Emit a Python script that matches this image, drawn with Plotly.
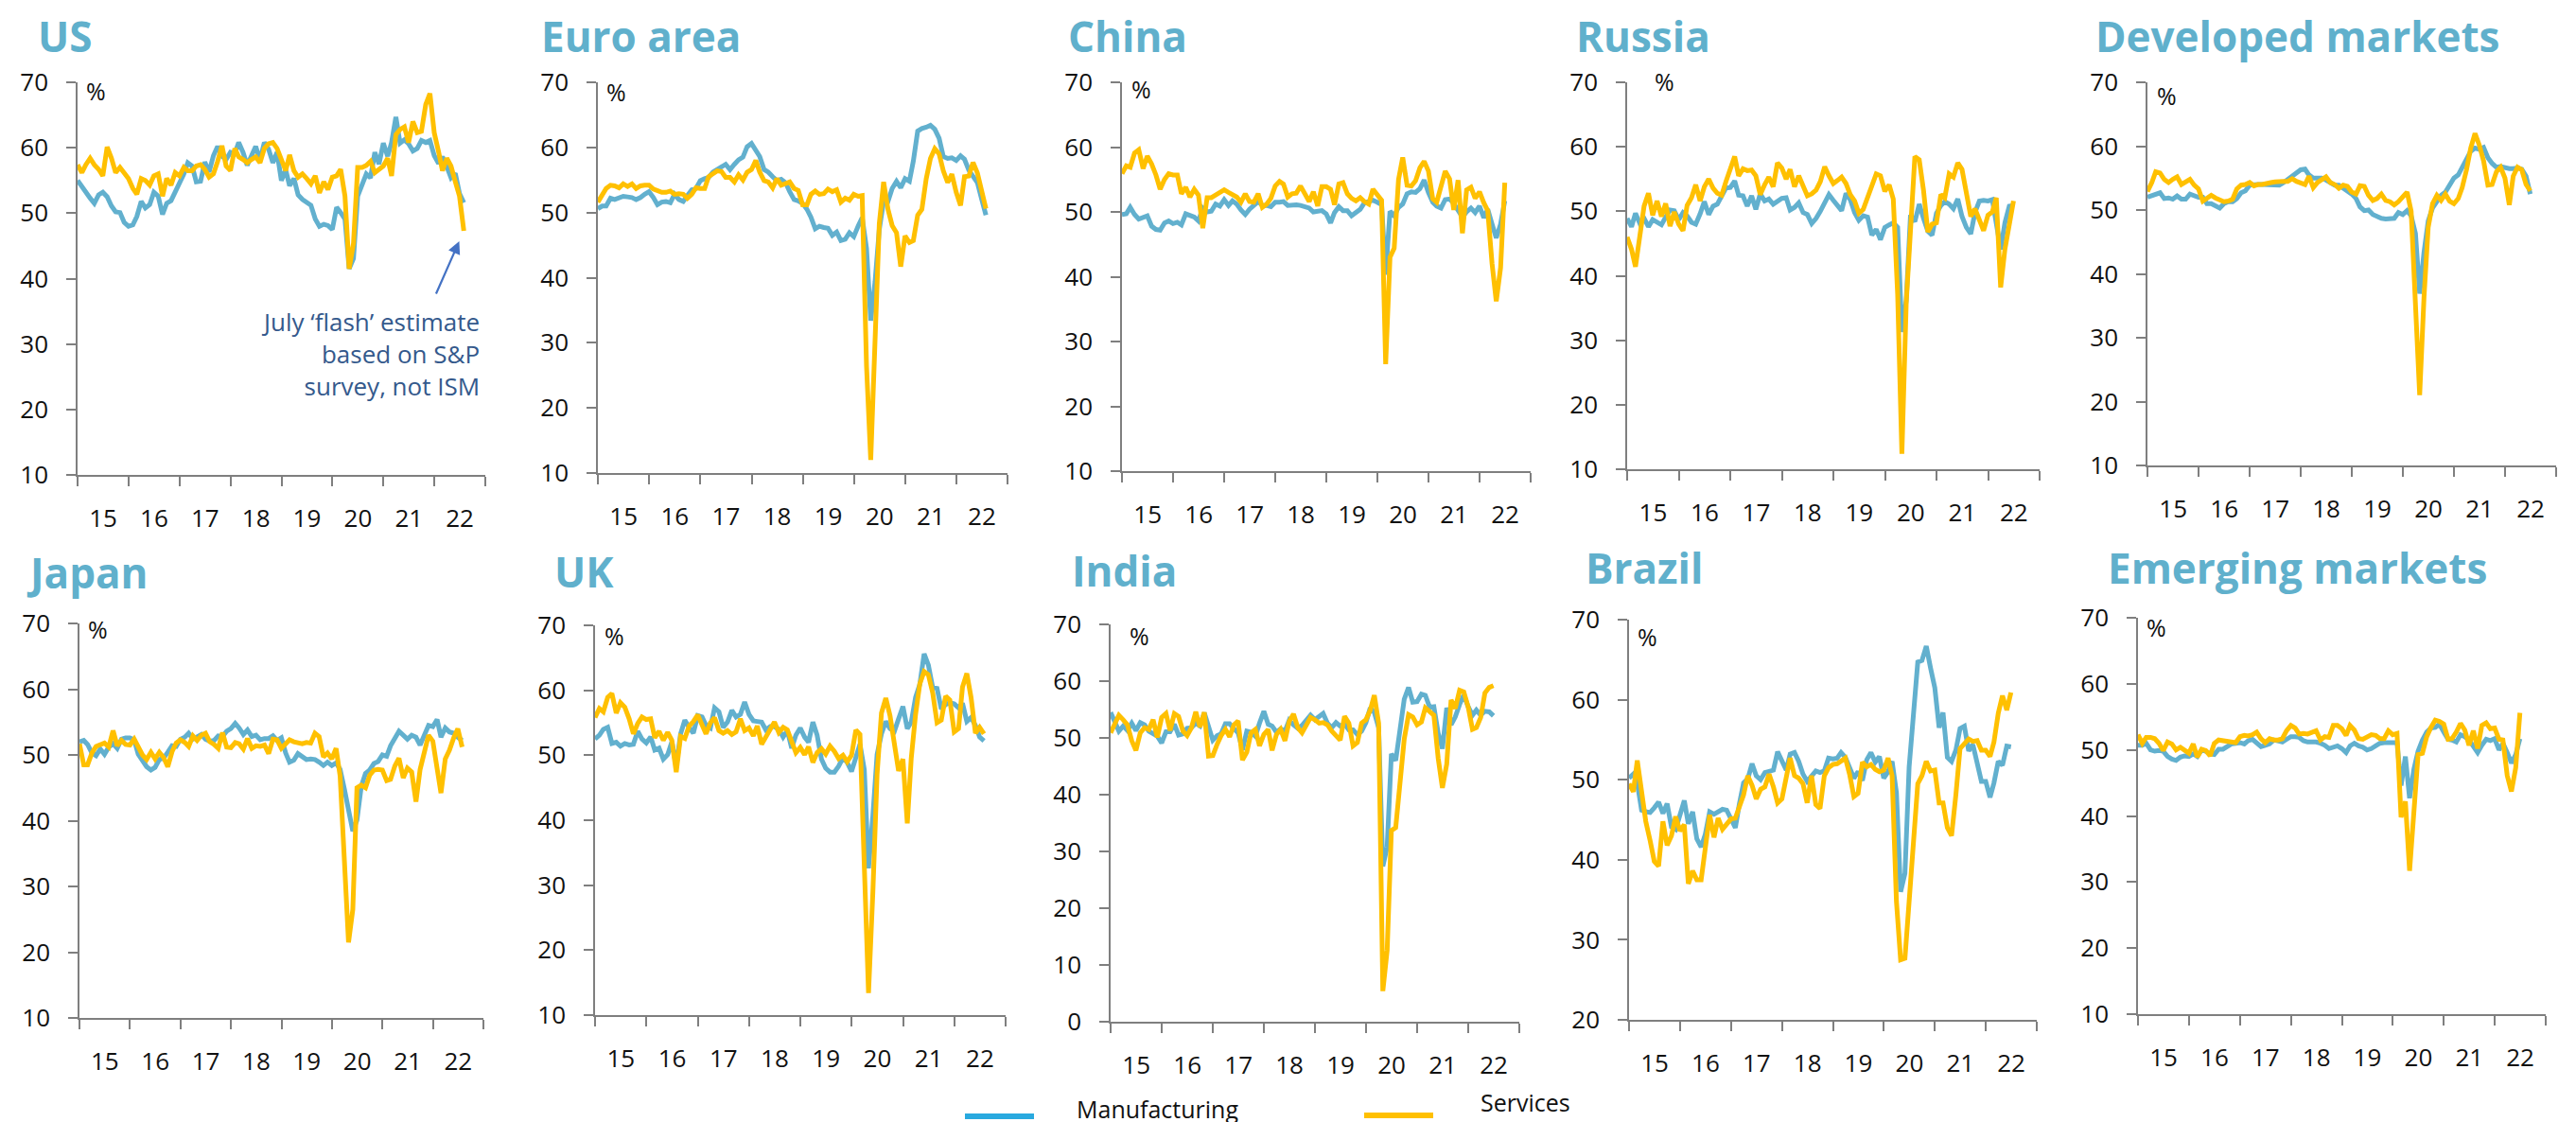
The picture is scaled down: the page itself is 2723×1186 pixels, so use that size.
import pandas as pd
import plotly.graph_objects as go

# ---------------- DATA (monthly PMIs, Dec-2014 onwards) ----------------
# month-end dates; "flash" economies run to Jul-2022, others to Jun-2022
dates_jul22 = pd.date_range("2015-01-01", periods=92, freq="MS") - pd.Timedelta(days=1)
dates_jun22 = dates_jul22[:91]

us_mfg = [55.0,
          54.0, 53.2, 52.3, 51.5, 52.8, 53.2, 52.5, 51.1, 50.2, 50.1, 48.6, 48.0,
          48.2, 49.5, 51.8, 50.8, 51.3, 53.2, 52.6, 49.8, 51.5, 51.9, 53.2, 54.5,
          56.0, 57.7, 57.2, 54.8, 54.9, 57.8, 56.3, 58.8, 60.2, 58.7, 58.2, 59.3,
          59.1, 60.8, 59.3, 57.3, 58.7, 60.2, 58.1, 60.8, 59.8, 57.7, 59.3, 55.0,
          56.6, 54.2, 55.3, 52.8, 52.1, 51.7, 51.2, 49.1, 48.0, 48.3, 48.1, 47.5,
          50.9, 50.1, 49.1, 41.5, 43.1, 52.6, 54.2, 56.0, 55.4, 59.3, 57.5, 60.7,
          58.7, 60.8, 64.7, 60.7, 61.2, 60.6, 59.5, 59.9, 61.1, 60.8, 61.1, 58.8,
          57.6, 58.6, 57.1, 55.4, 56.1, 53.0, 51.6]
us_svc = [57.4,
          56.2, 57.4, 58.4, 57.4, 56.7, 55.7, 60.1, 58.4, 56.2, 57.0, 56.2, 55.3,
          53.8, 52.9, 55.3, 55.0, 54.3, 55.7, 56.0, 52.6, 55.3, 54.3, 56.2, 55.7,
          57.0, 56.5, 56.5, 57.2, 57.4, 56.7, 55.5, 56.0, 57.9, 60.3, 57.2, 56.5,
          59.9, 58.6, 58.2, 57.7, 58.2, 58.6, 57.7, 59.9, 60.6, 60.8, 59.9, 58.2,
          56.5, 58.9, 56.5, 55.5, 56.0, 55.3, 54.5, 55.7, 53.1, 54.8, 53.6, 55.5,
          55.7, 56.7, 52.6, 41.5, 45.4, 57.0, 57.0, 57.3, 57.9, 56.2, 56.7, 57.2,
          58.4, 55.7, 62.0, 62.8, 63.2, 60.8, 64.0, 62.3, 62.5, 66.6, 68.3, 62.3,
          59.4, 56.5, 58.4, 57.2, 54.8, 52.6, 47.3]

ea_mfg = [50.6,
          51.0, 51.0, 52.2, 52.0, 52.2, 52.5, 52.4, 52.3, 52.0, 52.3, 52.8, 53.2,
          52.3, 51.2, 51.6, 51.7, 51.5, 52.8, 52.0, 51.7, 52.6, 53.5, 53.7, 54.9,
          55.2, 55.4, 56.2, 56.7, 57.0, 57.4, 56.6, 57.4, 58.1, 58.5, 60.1, 60.6,
          59.6, 58.6, 56.6, 56.2, 55.5, 54.9, 55.1, 54.6, 53.2, 52.0, 51.8, 51.4,
          50.5, 49.3, 47.5, 47.9, 47.7, 47.6, 46.5, 47.0, 45.7, 45.9, 46.9, 46.3,
          47.9, 49.2, 44.5, 33.4, 39.4, 47.4, 51.8, 51.7, 53.7, 54.8, 53.8, 55.2,
          54.8, 57.9, 62.5, 62.9, 63.1, 63.4, 62.8, 61.4, 58.6, 58.3, 58.4, 58.0,
          58.7, 58.2, 56.5, 55.5, 54.6, 52.1, 49.6]
ea_svc = [51.6,
          52.7, 53.7, 54.2, 54.1, 53.8, 54.4, 54.0, 54.4, 53.7, 54.1, 54.2, 54.2,
          53.6, 53.3, 53.1, 53.1, 53.3, 52.8, 52.9, 52.8, 52.2, 52.8, 53.8, 53.7,
          53.7, 55.5, 56.0, 56.4, 56.3, 55.4, 55.4, 54.7, 55.8, 55.0, 56.2, 56.6,
          58.0, 56.2, 54.9, 54.7, 53.8, 55.2, 54.2, 54.4, 54.7, 53.7, 53.4, 51.2,
          51.2, 52.8, 53.3, 52.8, 52.9, 53.6, 53.2, 53.5, 51.6, 52.2, 51.9, 52.8,
          52.5, 52.6, 26.4, 12.0, 30.5, 48.3, 54.7, 50.5, 48.0, 46.9, 41.7, 46.4,
          45.4, 45.7, 49.6, 50.5, 55.2, 58.3, 59.8, 59.0, 56.4, 54.6, 55.9, 53.1,
          51.1, 55.5, 55.6, 57.7, 56.1, 53.0, 50.6]

cn_mfg = [49.6,
          49.7, 50.7, 49.6, 48.9, 49.2, 49.4, 47.8, 47.3, 47.2, 48.3, 48.6, 48.2,
          48.4, 48.0, 49.7, 49.4, 49.2, 48.6, 50.6, 50.0, 50.1, 51.2, 50.9, 51.9,
          51.0, 51.7, 51.2, 50.3, 49.6, 50.4, 51.1, 51.6, 51.0, 51.0, 50.8, 51.5,
          51.5, 51.6, 51.0, 51.1, 51.1, 51.0, 50.8, 50.6, 50.0, 50.1, 50.2, 49.7,
          48.3, 49.9, 50.8, 50.2, 50.2, 49.4, 49.9, 50.4, 51.4, 51.7, 51.8, 51.5,
          51.1, 40.3, 50.1, 49.4, 50.7, 51.2, 52.8, 53.1, 53.0, 53.6, 54.9, 53.0,
          51.5, 50.9, 50.6, 51.9, 52.0, 51.3, 50.3, 49.2, 50.0, 50.6, 49.9, 50.9,
          49.1, 50.4, 48.1, 46.0, 48.1, 51.7]
cn_svc = [55.9,
          57.1, 56.9, 59.1, 59.6, 56.7, 58.6, 57.4, 55.7, 53.5, 55.0, 55.9, 55.7,
          55.7, 52.8, 53.8, 52.3, 53.5, 52.6, 47.5, 52.2, 52.2, 52.6, 53.1, 53.4,
          53.0, 52.7, 52.3, 51.5, 52.8, 51.6, 51.5, 52.8, 50.7, 51.2, 52.1, 54.0,
          54.7, 54.3, 52.3, 52.8, 52.9, 54.0, 52.8, 51.6, 53.1, 50.9, 53.9, 53.9,
          53.5, 51.1, 54.3, 54.5, 52.8, 52.1, 51.7, 52.2, 51.6, 51.2, 53.5, 52.6,
          51.8, 26.5, 43.0, 44.4, 55.0, 58.4, 54.1, 54.0, 54.8, 56.8, 57.8, 56.3,
          52.0, 51.5, 54.3, 56.3, 55.1, 50.3, 54.9, 46.7, 53.4, 53.8, 52.1, 53.1,
          51.4, 50.2, 42.0, 36.2, 41.4, 54.5]

ru_mfg = [48.9,
          47.6, 49.7, 48.1, 48.9, 47.6, 48.7, 48.3, 47.9, 49.1, 50.2, 50.1, 48.7,
          49.8, 49.3, 48.3, 48.0, 49.6, 51.5, 49.5, 50.8, 51.1, 52.4, 53.6, 53.7,
          54.7, 52.5, 52.4, 50.8, 52.4, 50.3, 52.7, 51.6, 51.9, 51.1, 51.5, 52.0,
          52.1, 50.2, 50.6, 51.3, 49.8, 49.5, 48.1, 48.9, 50.0, 51.3, 52.6, 51.7,
          50.9, 50.1, 52.8, 51.8, 49.8, 48.6, 49.3, 49.1, 46.3, 47.2, 45.6, 47.5,
          47.9, 48.2, 47.5, 31.3, 36.2, 49.4, 48.4, 51.1, 48.9, 46.9, 46.3, 49.7,
          50.9, 51.5, 51.1, 50.4, 51.9, 49.2, 47.5, 46.5, 49.8, 51.6, 51.7, 51.6,
          51.8, 48.6, 44.1, 48.2, 50.8, 50.9]
ru_svc = [46.0,
          44.1, 41.4, 46.8, 50.8, 52.8, 49.4, 51.6, 49.2, 51.2, 47.7, 49.9, 48.0,
          47.0, 50.9, 52.1, 54.1, 51.6, 53.8, 55.0, 53.6, 52.8, 52.5, 54.6, 56.5,
          58.5, 55.5, 56.6, 56.3, 56.4, 55.5, 52.6, 54.1, 55.3, 53.8, 57.5, 56.7,
          55.0, 56.5, 53.8, 55.5, 54.1, 52.4, 52.7, 53.3, 54.6, 56.9, 55.5, 54.3,
          54.8, 55.3, 54.3, 52.6, 51.6, 49.7, 50.3, 52.1, 53.7, 55.8, 55.5, 53.1,
          54.1, 51.9, 37.1, 12.4, 35.9, 47.7, 58.5, 58.0, 53.3, 46.8, 48.0, 48.2,
          52.6, 52.1, 55.8, 55.3, 57.5, 56.5, 53.1, 49.2, 50.4, 48.7, 47.0, 49.4,
          49.9, 52.1, 38.2, 44.1, 48.0, 51.6]

dm_mfg = [52.0,
          52.3, 52.5, 52.7, 51.8, 51.9, 51.7, 52.2, 51.7, 51.7, 52.5, 52.3, 52.0,
          52.0, 51.0, 51.0, 50.7, 50.3, 51.0, 51.3, 51.3, 51.8, 52.7, 53.0, 53.9,
          54.0, 54.0, 54.0, 54.0, 54.0, 53.9, 53.9, 54.3, 54.8, 55.3, 55.8, 56.3,
          56.4, 55.5, 55.0, 55.0, 55.0, 54.7, 54.3, 53.9, 53.9, 53.5, 53.0, 52.5,
          51.8, 50.5, 49.9, 50.0, 49.3, 48.9, 48.7, 48.6, 48.6, 48.7, 49.6, 49.3,
          49.9, 49.1, 46.3, 36.9, 43.4, 48.3, 50.3, 51.4, 52.3, 52.8, 54.0, 55.0,
          55.5, 56.7, 58.3, 59.2, 59.7, 59.5, 59.8, 58.2, 57.3, 56.7, 56.8, 56.6,
          56.5, 56.5, 56.6, 56.4, 55.3, 52.5]
dm_svc = [52.9,
          54.3, 56.0, 55.8, 54.8, 54.3, 54.8, 55.2, 54.0, 54.3, 54.8, 53.9, 53.3,
          51.4, 51.8, 52.3, 51.9, 51.5, 51.3, 51.4, 51.7, 53.3, 53.9, 54.0, 54.3,
          53.8, 54.0, 54.0, 54.2, 54.3, 54.4, 54.5, 54.5, 54.5, 54.9, 54.5, 54.2,
          54.0, 55.3, 53.5, 54.3, 54.8, 55.2, 54.3, 54.0, 53.4, 53.9, 53.7, 52.8,
          52.5, 53.8, 53.7, 52.3, 51.5, 51.8, 52.5, 51.5, 51.3, 50.8, 51.3, 52.0,
          52.8, 49.8, 36.4, 21.0, 36.4, 47.3, 51.0, 52.3, 51.5, 52.5, 51.4, 51.0,
          51.8, 53.5, 56.3, 59.7, 62.0, 60.2, 57.7, 53.9, 54.0, 56.0, 56.7, 55.0,
          50.8, 55.3, 56.7, 56.3, 54.0, 53.0]

jp_mfg = [52.0,
          52.2, 51.6, 50.3, 49.9, 50.9, 50.1, 51.2, 51.7, 51.0, 52.4, 52.6, 52.6,
          52.3, 50.1, 49.1, 48.2, 47.7, 48.1, 49.3, 49.5, 50.4, 51.4, 51.3, 52.4,
          52.7, 53.3, 52.4, 52.7, 53.1, 52.4, 52.1, 52.2, 52.9, 52.8, 53.6, 54.0,
          54.8, 54.1, 53.1, 53.8, 52.8, 53.0, 52.3, 52.5, 52.5, 52.9, 52.2, 52.6,
          50.3, 48.9, 49.2, 50.2, 49.8, 49.3, 49.4, 49.3, 48.9, 48.4, 48.9, 48.4,
          48.8, 47.8, 44.8, 41.9, 38.4, 40.1, 45.2, 47.2, 47.7, 48.7, 49.0, 50.0,
          49.8, 51.4, 52.7, 53.6, 53.0, 52.4, 53.0, 52.7, 51.5, 53.2, 54.5, 54.3,
          55.4, 52.7, 54.1, 53.5, 53.3, 52.7, 52.2]
jp_svc = [51.7,
          48.5, 48.5, 50.3, 51.3, 51.5, 51.8, 51.2, 53.7, 51.4, 52.2, 51.6, 51.5,
          52.4, 51.2, 50.0, 49.3, 50.4, 49.4, 50.4, 49.6, 48.2, 50.5, 51.8, 52.3,
          51.9, 51.3, 52.9, 52.2, 53.0, 53.3, 52.0, 51.6, 51.0, 53.4, 51.2, 51.1,
          51.9, 51.7, 50.9, 52.5, 51.0, 51.4, 51.3, 51.5, 50.2, 52.4, 52.3, 51.0,
          51.6, 52.3, 52.0, 51.8, 51.7, 51.9, 51.8, 53.3, 52.8, 49.7, 50.3, 49.4,
          51.0, 46.8, 33.8, 21.5, 26.5, 45.0, 45.4, 45.0, 46.9, 47.7, 47.8, 47.7,
          46.1, 46.3, 48.3, 49.5, 46.5, 48.0, 47.4, 42.9, 47.8, 50.7, 53.0, 52.1,
          47.6, 44.2, 49.4, 50.7, 52.6, 54.0, 51.2]

uk_mfg = [52.5,
          53.1, 54.0, 54.3, 51.8, 52.0, 51.4, 51.8, 51.6, 51.7, 53.7, 52.5, 51.9,
          52.8, 50.8, 51.1, 49.4, 50.1, 52.1, 48.3, 53.3, 55.4, 54.3, 53.4, 56.1,
          55.9, 54.6, 54.2, 57.3, 56.7, 54.3, 55.1, 56.9, 55.9, 56.3, 58.2, 56.3,
          55.3, 55.2, 55.1, 53.9, 54.4, 54.4, 54.0, 52.8, 53.8, 51.1, 53.1, 54.2,
          52.8, 52.0, 55.1, 53.1, 49.4, 48.0, 47.4, 47.4, 48.3, 49.6, 48.9, 47.5,
          50.0, 51.7, 47.8, 32.6, 40.7, 50.1, 53.3, 55.2, 54.1, 53.7, 55.6, 57.5,
          54.1, 55.1, 58.9, 60.9, 65.6, 63.9, 60.4, 60.3, 57.1, 57.8, 58.1, 57.9,
          57.3, 58.0, 55.2, 55.8, 54.6, 52.8, 52.2]
uk_svc = [55.8,
          57.2, 56.7, 58.9, 59.5, 56.5, 58.1, 57.4, 55.6, 53.3, 54.9, 55.9, 55.5,
          55.6, 52.7, 53.7, 52.3, 53.5, 52.3, 47.4, 52.9, 52.6, 54.5, 55.2, 56.2,
          54.5, 53.3, 55.0, 55.8, 53.8, 53.4, 53.8, 53.2, 53.6, 55.6, 53.8, 54.2,
          53.0, 54.5, 51.7, 52.8, 54.0, 55.1, 53.5, 54.3, 53.9, 52.2, 50.4, 51.2,
          50.1, 51.3, 48.9, 50.4, 51.0, 50.2, 51.4, 50.6, 49.5, 50.0, 49.0, 50.0,
          53.9, 53.2, 34.5, 13.4, 29.0, 47.1, 56.5, 58.8, 56.1, 51.4, 47.6, 49.4,
          39.5, 49.5, 56.3, 61.0, 62.9, 62.4, 59.6, 55.0, 55.4, 59.1, 58.5, 53.6,
          54.1, 60.5, 62.6, 58.9, 53.4, 54.3, 53.3]

in_mfg = [54.5,
          52.9, 51.2, 52.1, 51.3, 52.6, 51.3, 52.7, 52.3, 51.2, 50.7, 50.3, 49.1,
          51.1, 51.1, 52.4, 50.5, 50.7, 51.7, 51.8, 52.6, 52.1, 54.4, 52.3, 49.6,
          50.4, 50.7, 52.5, 52.5, 51.6, 50.9, 47.9, 51.2, 51.0, 50.3, 52.6, 54.7,
          52.4, 52.1, 51.0, 51.6, 51.2, 53.1, 52.3, 51.7, 52.2, 53.1, 54.0, 53.2,
          53.9, 54.3, 52.6, 51.8, 52.7, 52.1, 52.5, 51.4, 51.4, 50.6, 51.2, 52.7,
          55.3, 54.5, 51.8, 27.4, 30.8, 47.2, 46.0, 52.0, 56.8, 58.9, 56.3, 56.4,
          57.7, 57.5, 55.4, 55.5, 50.8, 48.1, 55.3, 52.3, 53.7, 55.9, 57.6, 55.5,
          54.0, 54.9, 54.0, 54.7, 54.6, 53.9]
in_svc = [50.9,
          52.6, 54.0, 53.2, 52.3, 49.5, 47.8, 50.9, 51.8, 51.5, 53.2, 50.1, 53.6,
          54.3, 51.3, 54.3, 53.8, 51.2, 50.4, 51.8, 54.6, 51.9, 54.5, 46.8, 46.9,
          48.9, 50.4, 51.5, 50.2, 52.3, 53.0, 46.1, 47.5, 50.9, 51.5, 48.6, 50.6,
          51.5, 47.8, 50.6, 51.5, 49.5, 52.9, 54.2, 51.8, 50.9, 52.3, 53.6, 53.2,
          52.6, 52.7, 52.3, 51.2, 50.4, 49.6, 53.8, 52.6, 48.6, 49.2, 52.6, 53.2,
          54.9, 57.5, 52.6, 5.4, 12.6, 33.7, 34.2, 41.8, 49.8, 54.1, 53.7, 52.3,
          52.8, 55.3, 54.6, 54.0, 46.4, 41.2, 45.4, 56.7, 55.2, 58.4, 58.1, 55.5,
          51.5, 51.8, 53.6, 57.9, 58.9, 59.2]

br_mfg = [50.2,
          50.7, 49.6, 46.2, 46.0, 45.9, 46.5, 47.2, 45.8, 47.0, 44.1, 43.8, 45.6,
          47.4, 44.5, 46.0, 42.6, 41.6, 43.2, 46.0, 45.7, 46.0, 46.3, 46.2, 45.2,
          44.0, 46.9, 49.6, 50.1, 52.0, 50.5, 50.0, 50.9, 51.1, 51.2, 53.5, 52.4,
          51.2, 53.2, 53.4, 52.3, 50.7, 49.8, 50.5, 51.1, 50.9, 51.1, 52.7, 52.6,
          52.7, 53.4, 52.8, 51.5, 50.2, 51.0, 49.9, 52.5, 53.4, 52.2, 52.9, 50.2,
          51.0, 52.3, 48.4, 36.0, 38.3, 51.6, 58.2, 64.7, 64.9, 66.7, 64.0, 61.5,
          56.5, 58.4, 52.8, 52.3, 53.7, 56.4, 56.7, 53.6, 54.4, 51.7, 49.8, 49.8,
          47.8, 49.6, 52.3, 51.8, 54.2, 54.1]
br_svc = [49.5,
          48.5, 52.4, 48.5, 44.8, 42.4, 39.8, 39.2, 44.8, 41.8, 43.0, 45.4, 43.6,
          44.4, 37.0, 38.6, 37.5, 37.5, 41.6, 45.6, 42.8, 45.2, 43.8, 44.4, 45.1,
          45.2, 46.6, 48.1, 50.5, 49.3, 47.6, 48.8, 49.1, 50.7, 49.1, 47.1, 47.6,
          50.2, 52.7, 50.5, 50.2, 49.5, 47.1, 50.5, 46.9, 46.4, 50.5, 51.5, 51.9,
          52.0, 52.3, 52.7, 50.7, 47.9, 48.3, 52.2, 51.6, 51.9, 51.3, 51.0, 51.2,
          52.7, 50.5, 34.8, 27.5, 27.7, 34.8, 41.6, 49.5, 50.5, 52.3, 51.1, 51.2,
          47.1, 47.1, 44.0, 43.0, 48.1, 53.9, 54.5, 55.1, 54.8, 54.9, 53.7, 53.7,
          52.9, 54.7, 58.3, 60.5, 58.7, 60.9]

em_mfg = [50.7,
          50.7, 51.0, 50.0, 49.8, 49.9, 49.8, 49.0, 48.6, 48.4, 48.9, 49.1, 49.0,
          49.4, 49.0, 50.0, 49.8, 49.4, 49.3, 50.1, 50.1, 50.4, 50.9, 51.0, 51.1,
          50.9, 51.4, 51.6, 51.0, 50.5, 50.7, 50.9, 51.5, 51.4, 51.2, 51.6, 52.0,
          52.0, 51.9, 51.4, 51.2, 51.2, 51.2, 51.0, 50.7, 50.2, 50.4, 50.6, 50.2,
          49.6, 50.6, 51.0, 50.6, 50.4, 50.0, 50.2, 50.6, 51.0, 51.1, 51.1, 51.1,
          51.1, 44.6, 49.0, 42.7, 47.1, 49.8, 51.5, 52.7, 53.3, 53.4, 53.9, 52.7,
          51.6, 51.5, 51.2, 52.3, 52.0, 51.5, 50.5, 49.6, 50.7, 51.6, 51.4, 51.7,
          50.0, 51.0, 49.6, 48.0, 49.3, 51.7]
em_svc = [52.3,
          51.0, 51.9, 51.9, 51.7, 51.0, 49.9, 51.2, 50.9, 50.0, 50.4, 50.0, 49.5,
          50.9, 48.9, 50.1, 49.9, 49.1, 51.0, 51.5, 51.4, 51.4, 51.2, 51.1, 52.0,
          52.2, 52.1, 52.3, 52.7, 51.7, 51.1, 51.7, 51.5, 51.5, 51.7, 52.9, 53.7,
          53.3, 52.4, 52.5, 52.4, 52.7, 52.9, 51.5, 52.0, 51.9, 53.7, 53.7, 53.2,
          52.2, 53.7, 53.0, 51.7, 51.6, 51.9, 52.3, 52.2, 51.7, 51.7, 52.9, 52.3,
          52.5, 39.8, 42.2, 31.7, 41.7, 49.3, 49.5, 52.0, 53.4, 54.5, 54.3, 53.9,
          51.6, 51.7, 52.7, 54.0, 53.0, 50.7, 52.9, 50.2, 53.7, 54.1, 53.2, 53.3,
          51.6, 51.5, 46.1, 43.7, 47.3, 55.6]

panel_names = ["US", "Euro area", "China", "Russia", "Developed markets",
               "Japan", "UK", "India", "Brazil", "Emerging markets"]
panel_mfg = [us_mfg, ea_mfg, cn_mfg, ru_mfg, dm_mfg, jp_mfg, uk_mfg, in_mfg, br_mfg, em_mfg]
panel_svc = [us_svc, ea_svc, cn_svc, ru_svc, dm_svc, jp_svc, uk_svc, in_svc, br_svc, em_svc]
panel_ymin = [10, 10, 10, 10, 10, 10, 10, 0, 20, 10]
series_names = ["Manufacturing", "Services"]

# ---------------- STYLE / LAYOUT ----------------
W, H = 2723, 1186
BLUE = "#62B0CE"
YELLOW = "#FFC000"
TITLE_C = "#60B0CC"
AXIS_C = "#7F7F7F"
FONT = "Open Sans"

# plot boxes in pixels: x0, x1, ytop, ybottom
boxes = [(74, 505, 79, 494), (624, 1057, 79, 492), (1178, 1610, 79, 490),
         (1712, 2148, 79, 488), (2262, 2694, 79, 484),
         (76, 503, 651, 1068), (621, 1055, 653, 1065), (1166, 1598, 652, 1072),
         (1714, 2145, 647, 1070), (2252, 2683, 645, 1064)]
# title: left x, vertical centre
title_pos = [(30, 30), (562, 30), (1119, 30), (1656, 30), (2205, 30),
             (18, 597), (576, 596), (1123, 595), (1666, 592), (2218, 592)]
# "%" label: x offset from axis, vertical centre
pct_pos = [(7, 88), (7, 89), (8, 86), (27, 78), (8, 93),
           (7, 657), (8, 664), (18, 664), (7, 665), (7, 655)]

fig = go.Figure()
layout = dict(width=W, height=H, margin=dict(l=0, r=0, t=0, b=0),
              paper_bgcolor="white", plot_bgcolor="white", showlegend=False)
annotations = []
shapes = []

for k in range(10):
    sfx = "" if k == 0 else str(k + 1)
    x0, x1, yt, yb = boxes[k]
    n = len(panel_mfg[k])
    dts = dates_jul22 if n == 92 else dates_jun22
    for vals, col, nm in [(panel_mfg[k], BLUE, series_names[0]),
                          (panel_svc[k], YELLOW, series_names[1])]:
        fig.add_trace(go.Scatter(x=dts, y=vals, mode="lines", name=nm,
                                 line=dict(color=col, width=5),
                                 xaxis="x" + sfx, yaxis="y" + sfx,
                                 hoverinfo="x+y+name"))
    layout["xaxis" + sfx] = dict(
        domain=[x0 / W, x1 / W], anchor="y" + sfx, type="date",
        range=["2014-12-31", "2023-01-01"], tick0="2015-01-01", dtick="M12",
        tickformat="%y", ticklabelmode="period", ticks="outside", ticklen=10,
        tickwidth=1.5, tickcolor=AXIS_C, showline=True, linecolor=AXIS_C,
        linewidth=1.5, showgrid=False, zeroline=False, ticklabelstandoff=12,
        tickfont=dict(family=FONT, size=26, color="#111111"), automargin=False)
    layout["yaxis" + sfx] = dict(
        domain=[1 - yb / H, 1 - yt / H], anchor="x" + sfx,
        range=[panel_ymin[k], 70], dtick=10, tick0=0, ticks="outside", ticklen=10,
        tickwidth=1.5, tickcolor=AXIS_C, showline=True, linecolor=AXIS_C,
        linewidth=1.5, showgrid=False, zeroline=False, ticklabelstandoff=14,
        tickfont=dict(family=FONT, size=26, color="#111111"), automargin=False)
    tx, ty = title_pos[k]
    annotations.append(dict(text="<b>" + panel_names[k] + "</b>", xref="paper", yref="paper",
                            x=tx / W, y=1 - ty / H, xanchor="left", yanchor="middle",
                            showarrow=False, font=dict(family=FONT, size=44, color=TITLE_C)))
    px, py = pct_pos[k]
    annotations.append(dict(text="%", xref="paper", yref="paper",
                            x=(x0 + px) / W, y=1 - py / H, xanchor="left", yanchor="middle",
                            showarrow=False, font=dict(family=FONT, size=25, color="#111111")))

# US flash note + arrow
annotations.append(dict(text="July \u2018flash\u2019 estimate<br>based on S&P<br>survey, not ISM",
                        xref="paper", yref="paper", x=501 / W, y=1 - 366 / H,
                        xanchor="right", yanchor="middle", align="right", showarrow=False,
                        font=dict(family=FONT, size=26, color="#34598C")))
annotations.append(dict(text="", xref="x", yref="y", x=dates_jul22[-1], y=us_svc[-1],
                        ax=-30, ay=68, axref="pixel", ayref="pixel", showarrow=True,
                        arrowhead=2, arrowsize=1.2, arrowwidth=2.2, arrowcolor="#4472C4",
                        standoff=12))

# legend (bottom centre)
shapes.append(dict(type="line", xref="paper", yref="paper", x0=1012 / W, x1=1085 / W,
                   y0=1 - 1172 / H, y1=1 - 1172 / H, line=dict(color="#29A9DF", width=6)))
shapes.append(dict(type="line", xref="paper", yref="paper", x0=1434 / W, x1=1507 / W,
                   y0=1 - 1171 / H, y1=1 - 1171 / H, line=dict(color=YELLOW, width=6)))
annotations.append(dict(text=series_names[0], xref="paper", yref="paper", x=1128 / W,
                        y=1 - 1164 / H, xanchor="left", yanchor="middle", showarrow=False,
                        font=dict(family=FONT, size=25, color="#111111")))
annotations.append(dict(text=series_names[1], xref="paper", yref="paper", x=1555 / W,
                        y=1 - 1157 / H, xanchor="left", yanchor="middle", showarrow=False,
                        font=dict(family=FONT, size=25, color="#111111")))

layout["annotations"] = annotations
layout["shapes"] = shapes
fig.update_layout(**layout)
fig.write_html("out.html")
